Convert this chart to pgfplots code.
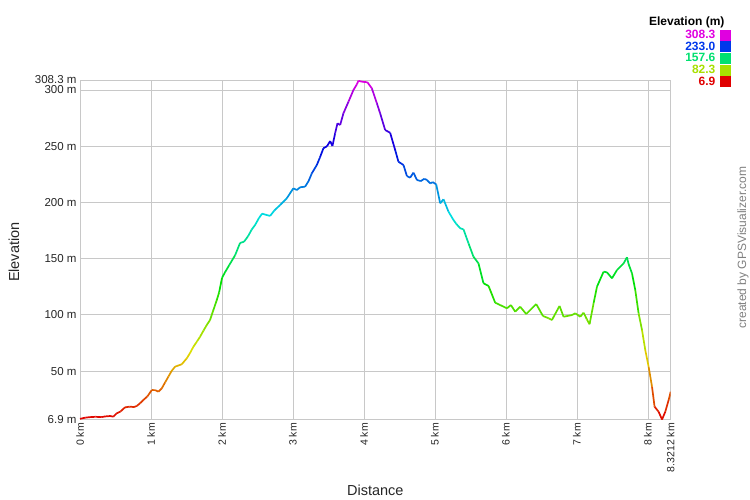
\documentclass[border=0pt]{standalone}
\usepackage{pgfplots}
\pgfplotsset{compat=1.18}
\usepackage{fontspec}
\setmainfont{Liberation Sans}

\definecolor{gridgray}{RGB}{200,200,200}
\definecolor{lgmag}{RGB}{224,0,224}
\definecolor{lgblue}{RGB}{0,56,235}
\definecolor{lggreen}{RGB}{0,224,112}
\definecolor{lgyel}{RGB}{168,224,0}
\definecolor{lgred}{RGB}{224,0,0}

\begin{document}
\begin{tikzpicture}
\useasboundingbox (0,0) rectangle (750pt,500pt);
\begin{axis}[
    at={(80pt,80.5pt)}, anchor=south west,
    scale only axis, width=590.7pt, height=338.8pt,
    xmin=0, xmax=8.3212, ymin=6.9, ymax=308.3,
    xtick={0,1,2,3,4,5,6,7,8,8.3212},
    xticklabels={0 km,1 km,2 km,3 km,4 km,5 km,6 km,7 km,8 km,8.3212 km},
    ytick={6.9,50,100,150,200,250,300,308.3},
    yticklabels={6.9 m,50 m,100 m,150 m,200 m,250 m,300 m,\raisebox{2.5pt}{308.3 m}},
    grid=major,
    major grid style={gridgray, line width=0.8pt},
    axis line style={gridgray, line width=0.8pt},
    tick style={draw=none},
    yticklabel style={font=\fontsize{11.5}{12}\selectfont, text=black!85},
    xticklabel style={font=\fontsize{10.5}{12}\selectfont, text=black!85, rotate=90, anchor=east},
    /pgf/number format/assume math mode=true,
    xlabel={Distance}, ylabel={Elevation},
    label style={font=\fontsize{14.5}{16}\selectfont, text=black!85},
    xlabel style={at={(axis description cs:0.5,-0.208)}, anchor=center},
    ylabel style={at={(axis description cs:-0.112,0.494)}, anchor=center},
    colormap={gpsv}{rgb255=(224,0,0) rgb255=(224,224,0) rgb255=(0,224,0)
                    rgb255=(0,224,224) rgb255=(0,0,224) rgb255=(224,0,224)},
    point meta min=6.9, point meta max=308.3,
    legend style={at={(axis description cs:1.102,1.153)}, anchor=north east,
        draw=none, fill=none, inner sep=0pt,
        font=\bfseries\fontsize{12}{12}\selectfont,
        nodes={inner sep=1pt, text height=8.5pt, text depth=1.17pt},
        row sep=0pt},
    legend plot pos=right,
    legend cell align=right,
]
\addplot[mesh, point meta=y, line width=1.7pt, forget plot] coordinates {
(0.000,7.5) (0.080,8.6) (0.141,9.0) (0.220,9.3) (0.300,9.0) (0.352,9.6)
(0.423,10.0) (0.470,9.4) (0.517,12.4) (0.570,14.0) (0.634,17.7) (0.700,18.3)
(0.760,18.0) (0.799,18.9) (0.850,21.5) (0.892,24.2) (0.950,27.5) (1.011,33.1)
(1.060,33.0) (1.104,31.6) (1.152,34.6) (1.200,40.0) (1.245,45.0) (1.290,50.0)
(1.339,53.9) (1.433,56.0) (1.504,61.3) (1.550,66.0) (1.597,71.6) (1.650,76.5)
(1.691,80.5) (1.740,86.0) (1.786,91.0) (1.832,95.4) (1.879,104.3) (1.927,113.2)
(1.960,120.0) (2.001,133.0) (2.044,138.0) (2.100,144.0) (2.185,153.0) (2.255,164.0)
(2.310,165.0) (2.368,170.0) (2.420,176.0) (2.467,180.0) (2.520,186.0) (2.565,190.0)
(2.620,189.0) (2.678,188.0) (2.740,193.0) (2.819,197.7) (2.913,203.7) (3.006,212.6)
(3.054,211.0) (3.101,213.5) (3.171,214.0) (3.220,219.0) (3.266,225.9) (3.336,233.3)
(3.380,240.0) (3.429,248.2) (3.480,250.0) (3.524,254.6) (3.556,250.2) (3.594,261.5)
(3.627,270.4) (3.665,268.9) (3.711,279.3) (3.782,289.6) (3.852,300.0) (3.900,305.0)
(3.922,308.3) (3.970,307.4) (4.049,306.9) (4.111,301.5) (4.182,288.2) (4.228,279.3)
(4.299,264.4) (4.369,262.0) (4.440,246.6) (4.486,236.2) (4.557,233.3) (4.605,223.5)
(4.650,222.0) (4.698,226.5) (4.746,220.0) (4.800,219.0) (4.850,221.0) (4.887,220.0)
(4.933,217.0) (4.970,218.0) (5.018,216.1) (5.074,199.2) (5.121,202.8) (5.191,191.8)
(5.261,184.4) (5.300,181.0) (5.356,177.0) (5.402,176.1) (5.473,163.6) (5.543,151.7)
(5.614,145.8) (5.684,128.1) (5.755,125.7) (5.849,110.8) (5.920,108.7) (6.014,105.8)
(6.070,108.7) (6.131,102.8) (6.201,107.2) (6.286,100.7) (6.366,105.8) (6.427,109.6)
(6.521,99.0) (6.600,97.0) (6.648,95.4) (6.755,107.9) (6.812,98.3) (6.930,99.8)
(6.977,101.4) (7.047,98.3) (7.094,101.9) (7.140,96.0) (7.178,91.6) (7.235,110.3)
(7.283,125.1) (7.376,138.4) (7.424,137.8) (7.494,132.5) (7.565,139.9) (7.658,145.8)
(7.705,151.2) (7.728,145.2) (7.776,136.9) (7.822,122.1) (7.869,101.4) (7.917,86.5)
(7.963,68.7) (8.010,53.9) (8.058,36.1) (8.094,18.3) (8.151,13.8) (8.199,6.9)
(8.245,13.8) (8.292,24.2) (8.321,31.6)
};
\addlegendimage{legend image code/.code={\path (0pt,0pt); \fill[lgmag] (4pt,-5pt) rectangle (14pt,5pt);}}
\addlegendentry{\textcolor{lgmag}{308.3}}
\addlegendimage{legend image code/.code={\path (0pt,0pt); \fill[lgblue] (4pt,-5pt) rectangle (14pt,5pt);}}
\addlegendentry{\textcolor{lgblue}{233.0}}
\addlegendimage{legend image code/.code={\path (0pt,0pt); \fill[lggreen] (4pt,-5pt) rectangle (14pt,5pt);}}
\addlegendentry{\textcolor{lggreen}{157.6}}
\addlegendimage{legend image code/.code={\path (0pt,0pt); \fill[lgyel] (4pt,-5pt) rectangle (14pt,5pt);}}
\addlegendentry{\textcolor{lgyel}{82.3}}
\addlegendimage{legend image code/.code={\path (0pt,0pt); \fill[lgred] (4pt,-5pt) rectangle (14pt,5pt);}}
\addlegendentry{\textcolor{lgred}{6.9}}
\end{axis}
\node[anchor=east, font=\bfseries\fontsize{12}{12}\selectfont] at (728pt,478pt) {Elevation (m)};
\node[rotate=90, text=black!50, font=\fontsize{12}{12}\selectfont] at (743pt,252.5pt) {created by GPSVisualizer.com};
\end{tikzpicture}
\end{document}
